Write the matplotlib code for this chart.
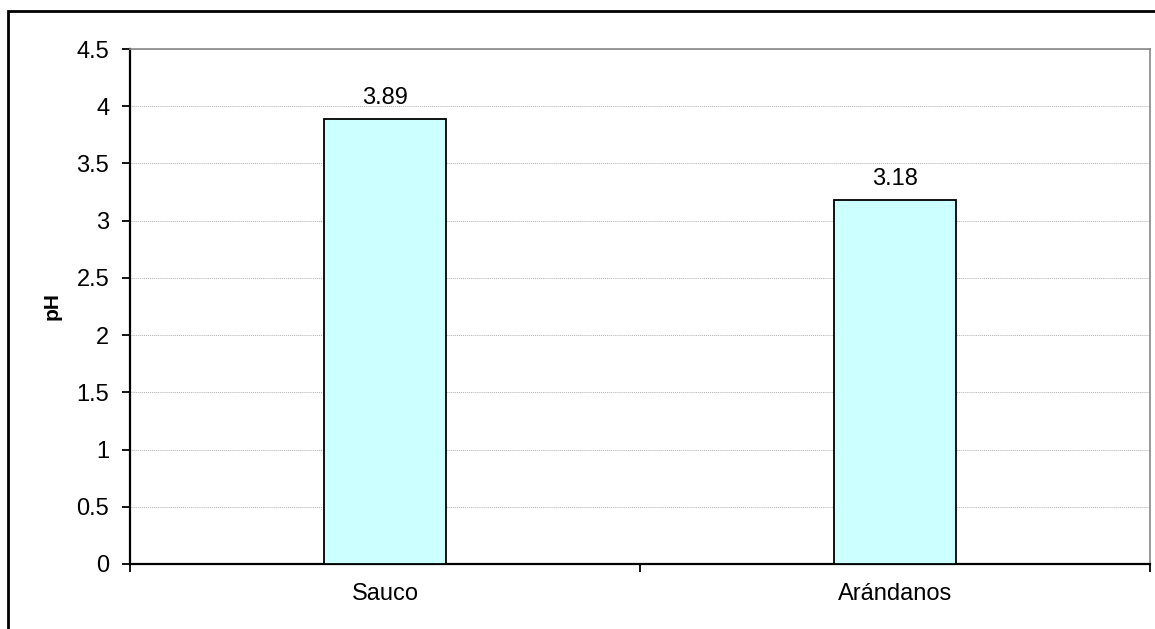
import matplotlib.pyplot as plt
from matplotlib.patches import Rectangle

# Data
categories = ["Sauco", "Arándanos"]
ph_values = [3.89, 3.18]
y_ticks = [0, 0.5, 1, 1.5, 2, 2.5, 3, 3.5, 4, 4.5]

plt.rcParams["font.family"] = ["Liberation Sans", "DejaVu Sans"]
fs = 17

fig = plt.figure(figsize=(11.55, 6.29), dpi=100)
ax = fig.add_axes([130 / 1155, 1 - 564 / 629, 1020 / 1155, 515 / 629])

# outer chart frame (only left/top visible in the reference)
fig.patches.append(Rectangle((8 / 1155, -0.05), 1.2, 1 - 11 / 629 + 0.05,
                             transform=fig.transFigure, fill=False,
                             edgecolor="black", linewidth=2))

x = range(len(categories))
bars = ax.bar(x, ph_values, width=0.24, color="#ccffff",
              edgecolor="black", linewidth=1.3, zorder=3)

for xi, v in zip(x, ph_values):
    ax.annotate(f"{v:.2f}", (xi, v), xytext=(0, 7), textcoords="offset points",
                ha="center", va="bottom", fontsize=fs)

ax.set_xlim(-0.5, len(categories) - 0.5)
ax.set_ylim(0, 4.5)
ax.set_yticks(y_ticks)
ax.set_yticklabels([f"{t:g}" for t in y_ticks], fontsize=fs)
ax.yaxis.grid(True, color="#b0b0b0", linestyle=(0, (1, 1)), linewidth=0.7, zorder=0)

# category boundaries as ticks, names centered in between
ax.set_xticks([i - 0.5 for i in range(len(categories) + 1)])
ax.set_xticklabels([])
ax.set_xticks(list(x), minor=True)
ax.set_xticklabels(categories, minor=True, fontsize=fs)
ax.tick_params(axis="x", which="minor", length=0, pad=14)
ax.tick_params(axis="both", which="major", direction="out", length=6, width=1.3)
ax.tick_params(axis="y", which="major", pad=9)

ax.spines["left"].set_linewidth(1.6)
ax.spines["bottom"].set_linewidth(1.6)
ax.spines["top"].set_color("#888888")
ax.spines["right"].set_color("#888888")
ax.spines["top"].set_linewidth(1.2)
ax.spines["right"].set_linewidth(1.2)

ax.set_ylabel("pH", fontsize=15, fontweight="bold", va="center")
ax.yaxis.set_label_coords(-78 / 1020, 0.5)

fig.savefig("out.png", dpi=100)
